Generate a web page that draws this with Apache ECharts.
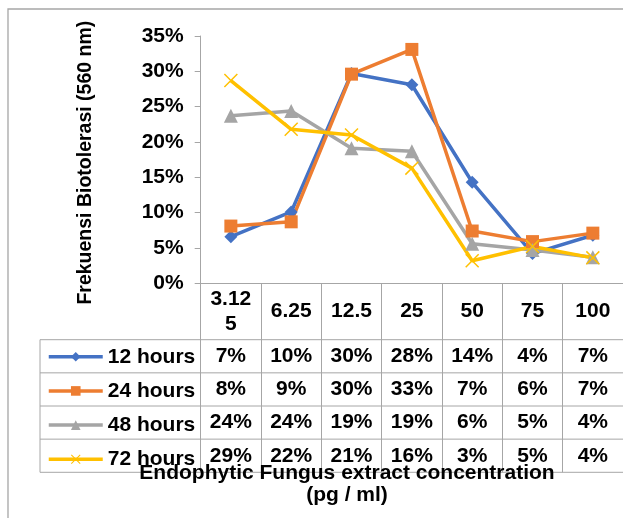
<!DOCTYPE html>
<html>
<head>
<meta charset="utf-8">
<script src="https://cdn.jsdelivr.net/npm/echarts@6/dist/echarts.min.js"></script>
<style>
html,body{margin:0;padding:0;background:#fff;}
#main{width:623px;height:518px;}
</style>
</head>
<body>
<div id="main"></div>
<script>
// ---- data (percent) ----
const categories = ['3.125', '6.25', '12.5', '25', '50', '75', '100'];
const seriesNames = ['12 hours', '24 hours', '48 hours', '72 hours'];
const hours12 = [6.6, 10.1, 29.7, 28.1, 14.3, 4.2, 6.8];
const hours24 = [8.1, 8.7, 29.6, 33.1, 7.4, 5.9, 7.1];
const hours48 = [23.7, 24.4, 19.1, 18.7, 5.6, 4.7, 3.7];
const hours72 = [28.7, 21.8, 21.0, 16.3, 3.2, 5.2, 3.6];
const yTicks = [0, 5, 10, 15, 20, 25, 30, 35];
const yTitle = 'Frekuensi Biotolerasi (560 nm)';
const xTitle = 'Endophytic Fungus extract concentration\n(pg / ml)';

// ---- layout / style ----
const W = 623, H = 518;
const FONT = '"Liberation Sans", Arial, sans-serif';
const FS = 21;
const GRID = { left: 200.7, top: 36, right: -5.9, bottom: H - 283.3 };
const axisY = H - GRID.bottom;          // y of 0%
const catRowBottom = 339.7;
const rowH = 33.15;
const tableLeft = 40;
const tableBottom = catRowBottom + 4 * rowH;
const lineCol = '#a6a6a6';
const colors = ['#4472C4', '#ED7D31', '#A5A5A5', '#FFC000'];
const xSymbol = 'path://M0,0.75 L0.75,0 L10,9.25 L9.25,10 Z M9.25,0 L10,0.75 L0.75,10 L0,9.25 Z';
const symbols = ['diamond', 'rect', 'triangle', xSymbol];
const symbolSizes = [13, 13, 14, 14];
const allData = [hours12, hours24, hours48, hours72];

const textBase = { fontFamily: FONT, fontWeight: 'bold', color: '#000', fontSize: FS };

// category axis (top row of data table) + 4 row axes
const xAxes = [{
  type: 'category', gridIndex: 0, position: 'bottom', data: categories,
  boundaryGap: true,
  axisLine: { show: true, onZero: false, lineStyle: { color: lineCol, width: 1 } },
  axisTick: { show: true, interval: 0, length: tableBottom - axisY, lineStyle: { color: lineCol, width: 1 } },
  axisLabel: Object.assign({}, textBase, {
    interval: 0, margin: (axisY + catRowBottom) / 2 - axisY, verticalAlign: 'middle',
    width: 48, overflow: 'breakAll', lineHeight: 25
  }),
  splitLine: { show: false }
}];
allData.forEach(function (arr, k) {
  xAxes.push({
    type: 'category', gridIndex: 0, position: 'bottom', data: categories,
    axisLine: { show: false }, axisTick: { show: false }, splitLine: { show: false },
    axisLabel: Object.assign({}, textBase, {
      interval: 0, verticalAlign: 'middle',
      margin: catRowBottom + rowH * (k + 0.5) - axisY,
      formatter: function (v, i) { return Math.round(arr[i]) + '%'; }
    })
  });
});

const series = allData.map(function (arr, k) {
  return {
    name: seriesNames[k], type: 'line', data: arr, xAxisIndex: 0, yAxisIndex: 0,
    symbol: symbols[k], symbolSize: symbolSizes[k], showAllSymbol: true,
    itemStyle: { color: colors[k] },
    lineStyle: { color: colors[k], width: 3.5 },
    emphasis: { disabled: true }
  };
});

// table frame lines
const graphics = [];
graphics.push({ type: 'rect', silent: true, z: -1,
  shape: { x: 8, y: 9, width: W + 20, height: H + 20 },
  style: { fill: 'none', stroke: '#a6a6a6', lineWidth: 1.3 } });
for (let r = 0; r <= 4; r++) {
  const y = catRowBottom + r * rowH;
  graphics.push({ type: 'line', silent: true,
    shape: { x1: tableLeft, y1: y, x2: W + 10, y2: y },
    style: { stroke: lineCol, lineWidth: 1 } });
}
graphics.push({ type: 'line', silent: true,
  shape: { x1: tableLeft, y1: catRowBottom, x2: tableLeft, y2: tableBottom },
  style: { stroke: lineCol, lineWidth: 1 } });
graphics.push({ type: 'text', silent: true, z: 10, x: 347, y: 484,
  style: { text: xTitle, fill: '#000', font: 'bold ' + FS + 'px ' + FONT,
    align: 'center', verticalAlign: 'middle', lineHeight: 22 } });

const chart = echarts.init(document.getElementById('main'), null, { renderer: 'canvas', width: W, height: H });
chart.setOption({
  animation: false,
  backgroundColor: '#fff',
  grid: Object.assign({ containLabel: false }, GRID),
  legend: {
    data: seriesNames, orient: 'vertical', left: 47, top: catRowBottom + rowH / 2 - 10,
    padding: 0,
    itemWidth: 54, itemHeight: 12, itemGap: rowH - 20, selectedMode: false,
    lineStyle: { width: 3.5 },
    textStyle: Object.assign({}, textBase, { lineHeight: 20 })
  },
  xAxis: xAxes,
  yAxis: {
    type: 'value', min: yTicks[0], max: yTicks[yTicks.length - 1], interval: yTicks[1] - yTicks[0],
    name: yTitle, nameLocation: 'middle', nameRotate: 90, nameGap: 105,
    nameTextStyle: Object.assign({}, textBase, { fontSize: 19.5, padding: [0, 6, 0, 0] }),
    axisLine: { show: true, lineStyle: { color: lineCol, width: 1 } },
    axisTick: { show: true, length: 6, lineStyle: { color: lineCol, width: 1 } },
    axisLabel: Object.assign({}, textBase, { margin: 17, formatter: '{value}%' }),
    splitLine: { show: false }
  },
  series: series,
  graphic: graphics
});
</script>
</body>
</html>
